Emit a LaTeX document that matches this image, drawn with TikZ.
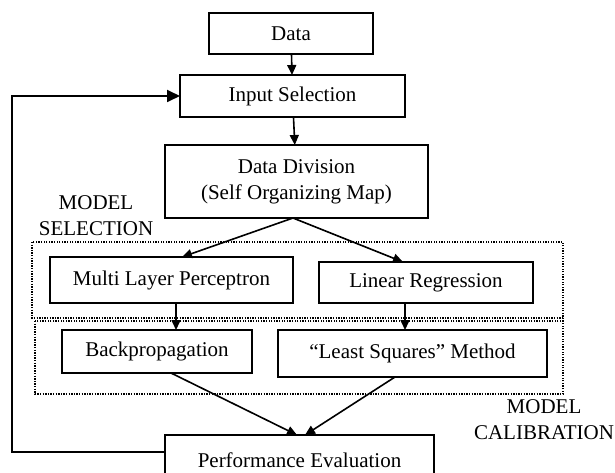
\documentclass[tikz,border=0pt]{standalone}
\usepackage{fontspec}
\setmainfont{Liberation Serif}
\usetikzlibrary{arrows.meta}
\tikzset{
	box/.style={draw,line width=2pt,inner sep=0,outer sep=0,align=center,font=\fontsize{21}{26}\selectfont},
	frame/.style={line width=1.8pt,dash pattern=on 1.3pt off 1.3pt},
	flow/.style={line width=1.6pt,-{Triangle[length=10pt,width=9pt]}},
	tag/.style={align=center,inner sep=0,font=\fontsize{21}{26}\selectfont}
}
\begin{document}
\begin{tikzpicture}[x=1pt,y=-1pt]
	\useasboundingbox (0,0) rectangle (615,473);
	\draw[frame] (32,242) rectangle (563,318);
	\draw[frame] (35,321) rectangle (563,394);
	\node[box,minimum width=164pt,minimum height=41pt] (data) at (291,33.5) {Data};
	\node[box,minimum width=225pt,minimum height=42pt] (input) at (292.5,96) {Input Selection};
	\node[box,minimum width=263pt,minimum height=73pt] (division) at (296.5,181.5) {Data Division\\(Self Organizing Map)};
	\node[box,minimum width=243pt,minimum height=46pt] (mlp) at (171.5,280) {Multi Layer Perceptron};
	\node[box,minimum width=214pt,minimum height=41pt] (linreg) at (426,282.5) {Linear Regression};
	\node[box,minimum width=190pt,minimum height=43pt] (backprop) at (157,351.5) {Backpropagation};
	\node[box,minimum width=269pt,minimum height=47pt] (lsq) at (412.5,353.5) {``Least Squares'' Method};
	\node[box,minimum width=269pt,minimum height=50pt] (perf) at (299.5,460) {Performance Evaluation};
	\node[tag] (selection) at (96,215.5) {MODEL\\SELECTION};
	\node[tag] (calibration) at (544,420) {MODEL\\CALIBRATION};
	\coordinate (back) at (12,452);
	\draw[flow] (data) -- (input);
	\draw[flow] (input) -- (division);
	\draw[flow] ([xshift=-3.5pt]division.south) -- ([xshift=10.5pt]mlp.north);
	\draw[flow] ([xshift=-3.5pt]division.south) -- ([xshift=-23pt]linreg.north);
	\draw[flow] ([xshift=4.5pt]mlp.south) -- ([xshift=4.5pt]mlp.south |- backprop.north);
	\draw[flow] ([xshift=-21pt]linreg.south) -- ([xshift=-21pt]linreg.south |- lsq.north);
	\draw[flow] ([xshift=14pt]backprop.south) -- ([xshift=-2.5pt]perf.north);
	\draw[flow] ([xshift=-17.5pt]lsq.south) -- ([xshift=5.5pt]perf.north);
	\draw[line width=1.8pt,-{Triangle[length=13pt,width=12pt]}] (perf.west |- back) -- (back) |- (input.west);
\end{tikzpicture}
\end{document}
